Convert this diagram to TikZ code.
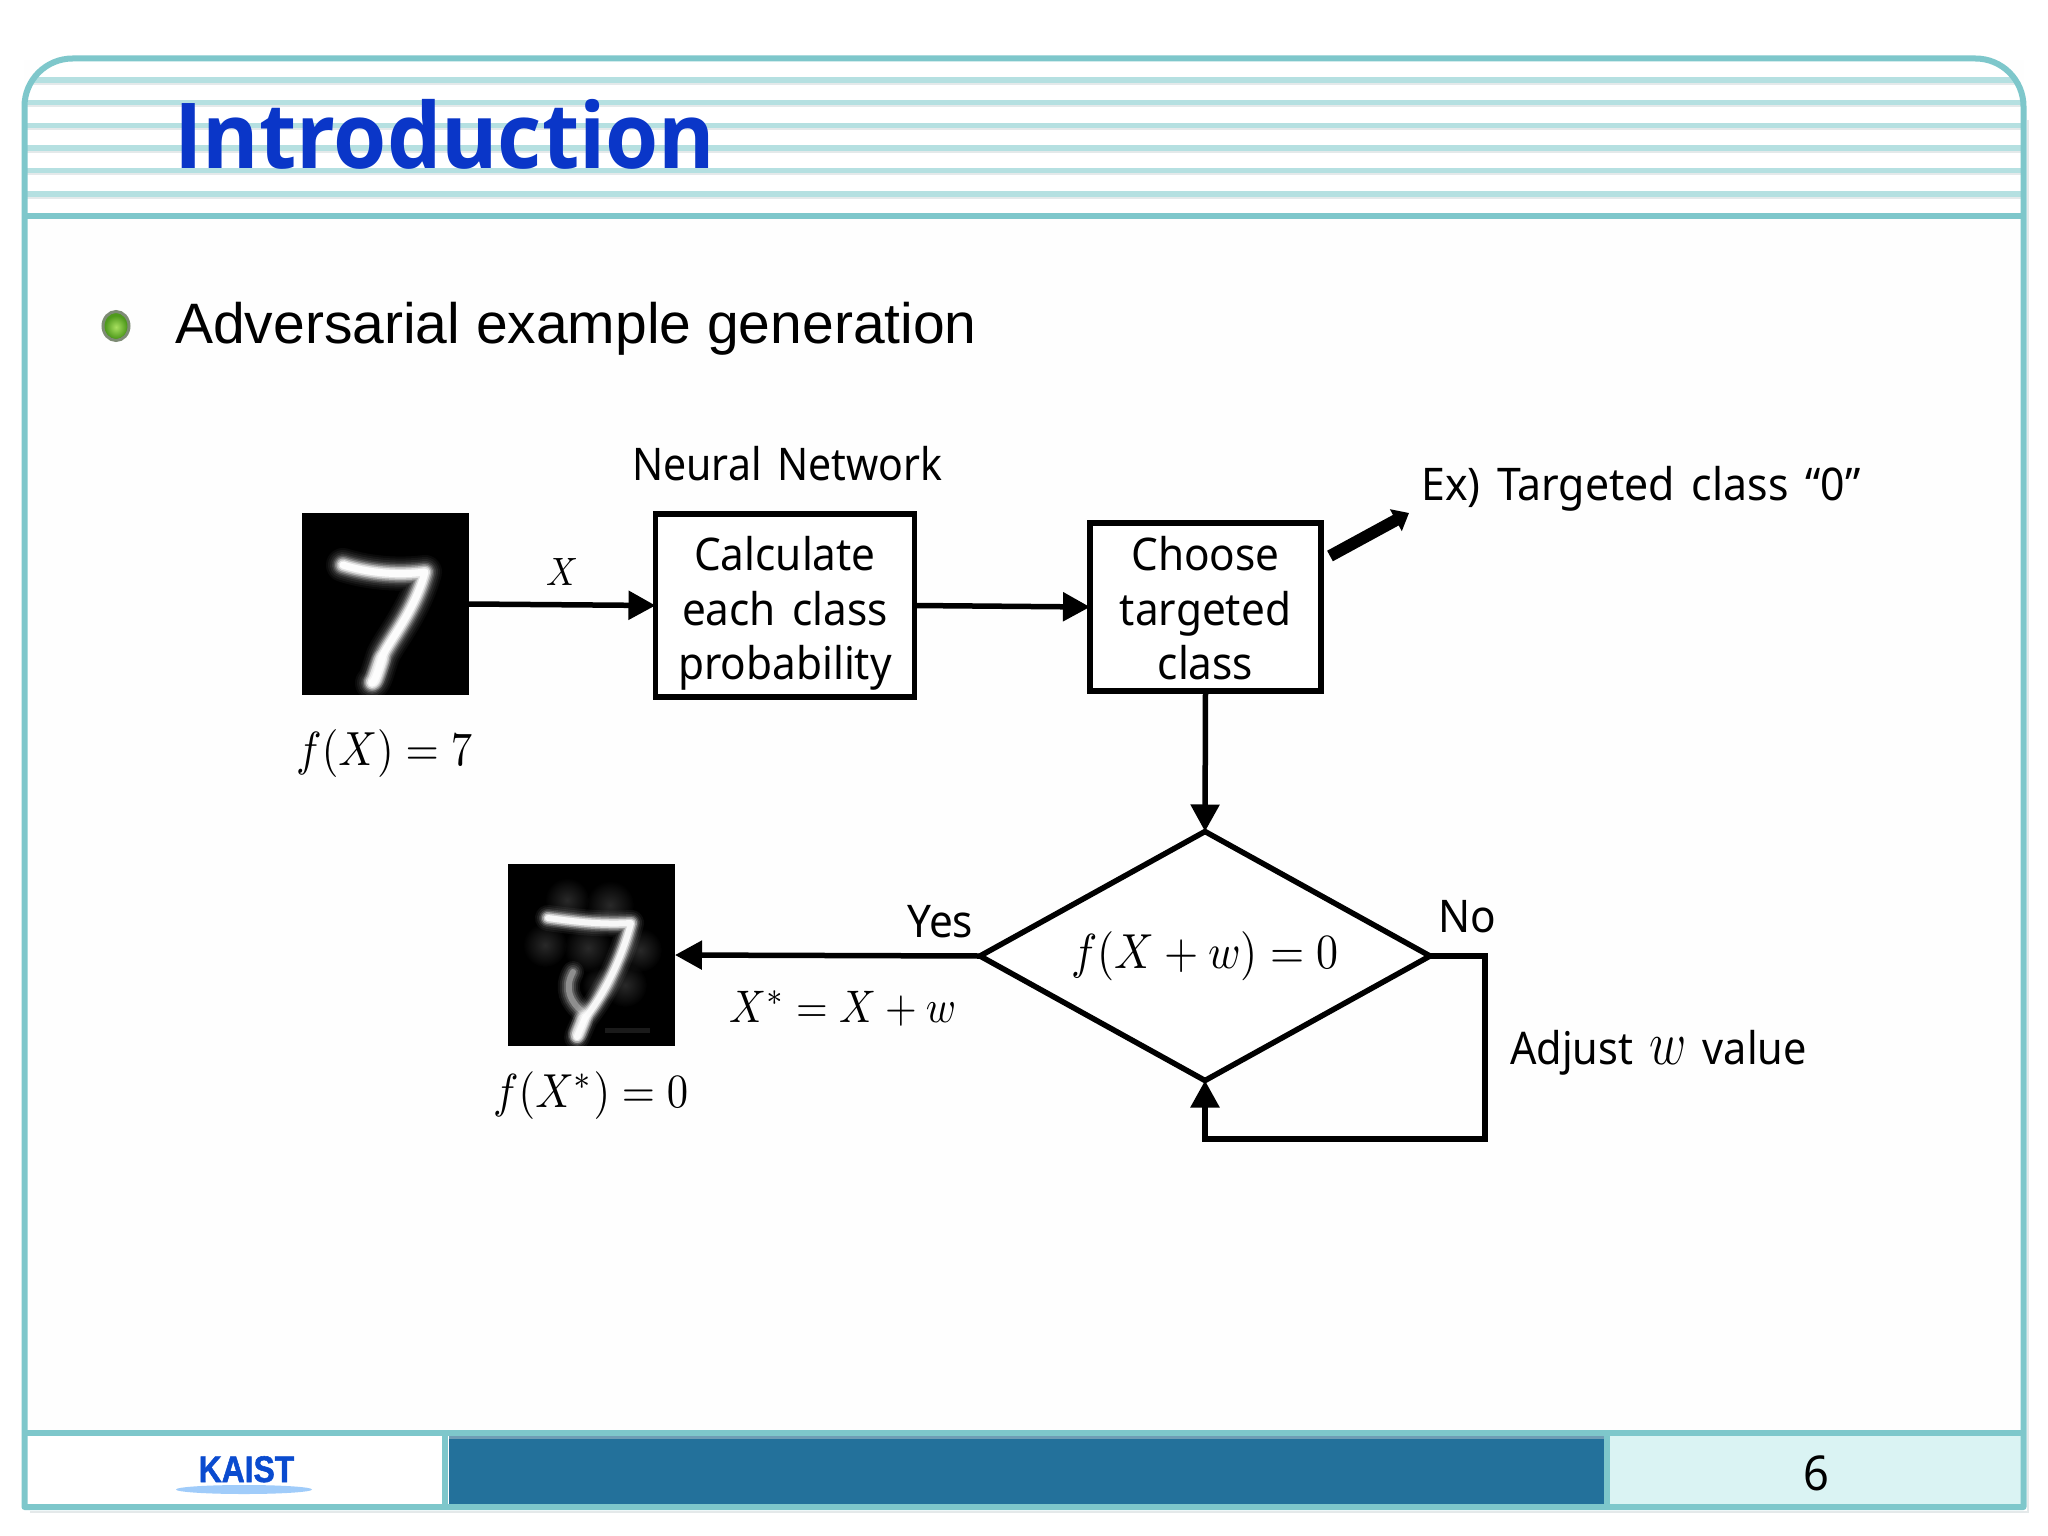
\documentclass[tikz,border=0pt]{standalone}
\usepackage{fontspec}
\usetikzlibrary{arrows.meta,shapes.geometric}
\setmainfont{Liberation Sans}
\newfontfamily\labfam[FakeStretch=0.94,WordSpace=1.5]{Noto Sans}
\newfontfamily\titlefam{Open Sans}
\newfontfamily\logofam[BoldFeatures={FakeBold=1.5}]{Liberation Sans}
\newcommand\lab{\labfam\fontsize{45}{54.5}\selectfont}
\newcommand\mbx[2]{\scalebox{1}[1.12]{\resizebox{#1}{!}{#2}}}
\definecolor{framecol}{HTML}{7EC7CB}
\definecolor{stripecol}{HTML}{B5E0E1}
\definecolor{stripeshadow}{HTML}{E4E9EA}
\definecolor{bluebar}{HTML}{23719B}
\definecolor{bluetop}{HTML}{6F9DB5}
\definecolor{panelcol}{HTML}{DAF3F3}
\definecolor{titleblue}{HTML}{0A36C8}
\definecolor{logoblue}{HTML}{0A4BCF}
\definecolor{logosky}{HTML}{A0CCFA}
\definecolor{ballin}{HTML}{A8E060}
\definecolor{ballout}{HTML}{4F9A1C}
\definecolor{ballrim}{HTML}{7D8B74}
\tikzset{
  x=1pt,y=-1pt,
  boxnode/.style={draw=black,line width=5.5pt,fill=white,align=center,font=\lab,inner sep=0pt,outer sep=0pt},
  conn/.style={draw=black,line width=5.5pt,-{Triangle[length=27pt,width=28pt]}},
  textlab/.style={inner sep=0pt,anchor=base west,font=\lab},
  mathlab/.style={inner sep=0pt,anchor=base west},
  imgnode/.style={fill=black,inner sep=0pt,outer sep=0pt},
}
\begin{document}
\begin{tikzpicture}
\useasboundingbox (0,0) rectangle (2048,1536);
\fill[white] (0,0) rectangle (2048,1536);
\fill[white!99.6!black] (24,60) rectangle (2024,1507);
% header stripes
\begin{scope}
\clip (24.5,1507) [rounded corners=48pt] -- (24.5,58.5) -- (2023.5,58.5) [sharp corners] -- (2023.5,1507) -- cycle;
\fill[white] (24,58) rectangle (2024,216);
\foreach \yy in {80,102.7,125.3,148,170.7,194}{
  \draw[stripeshadow,line width=2.5pt] (24,\yy+3.5) -- (2024,\yy+3.5);
  \draw[stripecol,line width=5.5pt] (24,\yy) -- (2024,\yy);
}
\end{scope}
% footer fills
\fill[white] (27,1436) rectangle (444,1505);
\fill[bluebar] (449,1437) rectangle (1604,1505);
\fill[bluetop] (449,1436) rectangle (1604,1439);
\fill[panelcol] (1610,1436) rectangle (2021,1505);
% frame
\draw[stripeshadow,line width=2pt] (30,1512) -- (2028,1512) -- (2028,120);
\draw[framecol,line width=6pt,line join=round] (24.5,1507) [rounded corners=48pt] -- (24.5,58.5) -- (2023.5,58.5) [sharp corners] -- (2023.5,1507) -- cycle;
\draw[framecol,line width=5.5pt] (24.5,216) -- (2023.5,216);
\draw[framecol,line width=5.5pt] (24.5,1433) -- (2023.5,1433);
\draw[framecol,line width=6pt] (444.5,1433) -- (444.5,1507);
\draw[framecol,line width=6pt] (1607,1433) -- (1607,1507);
% title, bullet, heading
\node[inner sep=0pt,anchor=base west,text=titleblue,font=\titlefam\bfseries\fontsize{91}{100}\selectfont] (title) at (174,168) {\scalebox{0.945}[1]{Introduction}};
\draw[ballrim,line width=3pt,fill=ballout] (116,326) circle[x radius=13,y radius=14.5];
\shade[inner color=ballin,outer color=ballout] (116,327) circle[x radius=11,y radius=11.5];
\node[inner sep=0pt,anchor=base west,font=\fontsize{57}{60}\selectfont] (head) at (175,343) {Adversarial example generation};
% images
\node[imgnode,minimum width=167pt,minimum height=182pt] (img1) at (385.5,604) {};
\foreach \w/\o in {34/.04,30/.05,26/.07,22/.1,19/.16,16/.25,13/.4,10/.6,7/.9}{
  \draw[white,line width=\w pt,opacity=\o,line cap=round,line join=round] (343,565) .. controls (365,572) and (395,576) .. (425,572) .. controls (415,610) and (390,640) .. (383,655) .. controls (378,670) and (376,680) .. (372,683);
}
\foreach \w/\o in {20/.15,16/.25,12/.4}{
  \draw[white,line width=\w pt,opacity=\o,line cap=round] (381,660) -- (374,680);
}
\node[imgnode,minimum width=167pt,minimum height=182pt] (img2) at (591.5,955) {};
\begin{scope}[blend mode=screen]
\foreach \cx/\cy/\rr in {567/900/22,610/905/24,545/945/22,588/948/24,640/950/22,625/985/22,600/985/18}{
  \shade[inner color=black!84,outer color=black] (\cx,\cy) circle (\rr);
}
\end{scope}
\foreach \w/\o in {22/.06,18/.08,14/.12,10/.18,6/.3}{
  \draw[white,opacity=\o,line width=\w pt,line cap=round] (573,972) .. controls (564,988) and (570,1002) .. (583,1012);
}
\draw[white,opacity=.1,line width=5pt] (605,1030) -- (650,1030);
\foreach \w/\o in {26/.05,22/.07,18/.12,15/.2,12/.35,9/.55,6/.85}{
  \draw[white,line width=\w pt,opacity=\o,line cap=round,line join=round] (548,918) .. controls (570,921) and (600,925) .. (631,923) .. controls (620,965) and (600,1000) .. (585,1018) .. controls (580,1030) and (578,1034) .. (577,1037);
}
\foreach \w/\o in {20/.15,16/.25,12/.4}{
  \draw[white,line width=\w pt,opacity=\o,line cap=round] (583,1020) -- (578,1033);
}
% boxes
\node[boxnode,minimum width=259pt,minimum height=183pt] (box1) at (785,605.5) {\rule{0pt}{50pt}Calculate\\each class\\probability};
\node[boxnode,minimum width=231pt,minimum height=168pt] (box2) at (1205.5,607) {\rule{0pt}{37pt}Choose\\targeted\\class};
\node[draw=black,line width=5.5pt,diamond,fill=white,inner sep=0pt,outer sep=0pt,minimum width=450pt,minimum height=249pt,aspect=1.8] (dia) at (1205,956) {\mbx{267pt}{$f(X+w)=0$}};
% connectors
\draw[conn] (img1.east) -- (box1.west);
\draw[conn] (box1.east) -- (box2.west);
\draw[conn] (box2.south) -- (dia.north);
\draw[conn] (dia.west) -- (img2.east);
\coordinate (loopc) at (1485,1139);
\draw[conn,line join=miter] (dia.east) -| (loopc) -| (dia.south);
\coordinate (thickstart) at (1330,556);
\coordinate (thickend) at (1409,513);
\draw[draw=black,line width=12pt,-{Triangle[length=15pt,width=24pt]}] (thickstart) -- (thickend);
% labels
\node[textlab] (nn) at (632,480) {\scalebox{0.97}[1]{Neural Network}};
\node[textlab] (ex) at (1421,500) {\scalebox{1.012}[1]{Ex) Targeted class “0”}};
\node[textlab] (yes) at (907,937) {Yes};
\node[textlab] (no) at (1438,932) {No};
\node[textlab] (adj) at (1510,1064) {\scalebox{0.98}[1]{Adjust \scalebox{2.1}[2.5]{$w$} value}};
\node[mathlab] (mx) at (546,585) {\mbx{32pt}{$X$}};
\node[mathlab] (mf1) at (296,765) {\mbx{176pt}{$f(X)=7$}};
\node[mathlab] (mxs) at (729,1022) {\mbx{227pt}{$X^{*}=X+w$}};
\node[mathlab] (mf2) at (493,1107) {\mbx{195pt}{$f(X^{*})=0$}};
% footer
\node[inner sep=0pt,anchor=base,text=logoblue,font=\logofam\bfseries\fontsize{37}{40}\selectfont] (kaist) at (246.5,1482) {\scalebox{0.86}[1]{KAIST}};
\fill[logosky] (244,1489.5) ellipse[x radius=68,y radius=4.5];
\node[inner sep=0pt,anchor=base,font=\labfam\fontsize{48}{50}\selectfont] (page) at (1816,1490) {6};
\end{tikzpicture}
\end{document}
